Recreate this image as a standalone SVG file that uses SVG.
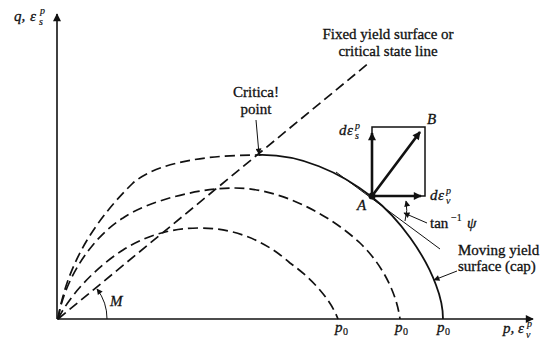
<svg xmlns="http://www.w3.org/2000/svg" width="546" height="345" viewBox="0 0 546 345">
<style>
.t{font-family:"Liberation Serif",serif;font-size:15px;fill:#111;stroke:#111;stroke-width:0.3}
.i{font-style:italic}
.s{font-size:10px;stroke-width:0.2}
.ax{stroke:#111;stroke-width:1.6;fill:none}
.sol{stroke:#111;stroke-width:1.8;fill:none}
.dash{stroke:#111;stroke-width:1.7;fill:none;stroke-dasharray:10 5}
.thin{stroke:#111;stroke-width:1;fill:none}
.vec{stroke:#111;stroke-width:2.6;fill:none}
.rect{stroke:#111;stroke-width:1.5;fill:none}
</style>
<defs>
<marker id="ah" viewBox="0 0 10 10" refX="9" refY="5" markerWidth="11" markerHeight="8" markerUnits="userSpaceOnUse" orient="auto"><path d="M0,0 L10,5 L0,10 z" fill="#111"/></marker>
<marker id="ahs" viewBox="0 0 10 10" refX="9" refY="5" markerWidth="8" markerHeight="6" markerUnits="userSpaceOnUse" orient="auto"><path d="M0,0 L10,5 L0,10 z" fill="#111"/></marker>
</defs>
<rect width="546" height="345" fill="#fff"/>
<g id="axes">
<line class="ax" x1="57" y1="319" x2="57" y2="14" marker-end="url(#ah)"/>
<line class="ax" x1="57" y1="319" x2="533" y2="319" marker-end="url(#ah)"/>
<text class="t i" x="14" y="21">q,</text>
<text class="t i" x="30" y="21">ε</text>
<text class="t s i" x="40" y="14">p</text>
<text class="t s i" x="39" y="25">s</text>
<text class="t i" x="503" y="333">p,</text>
<text class="t i" x="518" y="333">ε</text>
<text class="t s i" x="527" y="327">p</text>
<text class="t s i" x="526" y="338">v</text>
</g>
<g id="connectors">
<path class="dash" d="M58,319 L370,62"/>
<path class="dash" d="M58,319 C66,270 90,225 133,183 C160,160 215,155 259,155"/>
<path class="sol" d="M259,155 C300,154 340,172 372,197 C400,219 425,255 436,285 C441,298 443,310 443,319"/>
<path class="dash" d="M58,319 C64,280 92,237 123,218 C150,200 200,188 235,188 C280,188 330,215 360,243 C380,262 396,290 400,319"/>
<path class="dash" d="M58,319 C70,295 95,268 123,250 C145,236 170,228 200,228 C240,228 270,245 290,263 C310,277 330,298 338,319"/>
<path class="thin" d="M336,172 L440,249"/>
<path class="thin" d="M107,319 A49,49 0 0 0 97,289" marker-end="url(#ahs)"/>
<path class="thin" d="M405,221 Q408,210 406,201" marker-end="url(#ahs)"/>
<line class="thin" x1="256" y1="120" x2="259" y2="154" marker-end="url(#ahs)"/>
<line class="thin" x1="427" y1="223" x2="404" y2="213" marker-end="url(#ahs)"/>
<line class="thin" x1="457" y1="271" x2="434" y2="280" marker-end="url(#ahs)"/>
</g>
<g id="vectors">
<rect class="rect" x="372" y="127" width="53" height="69"/>
<line class="vec" x1="372" y1="196" x2="372" y2="133" marker-end="url(#ah)"/>
<line class="vec" x1="372" y1="196" x2="421" y2="196" marker-end="url(#ah)"/>
<line class="vec" x1="372" y1="196" x2="420" y2="132" marker-end="url(#ah)"/>
<circle cx="372" cy="196" r="3.5" fill="#111"/>
</g>
<g id="labels">
<text class="t" x="388" y="39" text-anchor="middle">Fixed yield surface or</text>
<text class="t" x="388" y="56" text-anchor="middle">critical state line</text>
<text class="t" x="256" y="97" text-anchor="middle">Critica!</text>
<text class="t" x="256" y="114" text-anchor="middle">point</text>
<text class="t i" x="427" y="124">B</text>
<text class="t i" x="357" y="210">A</text>
<text class="t i" x="339" y="135">d</text>
<text class="t i" x="347" y="135">ε</text>
<text class="t s i" x="355" y="129">p</text>
<text class="t s i" x="355" y="139">s</text>
<text class="t i" x="430" y="200">d</text>
<text class="t i" x="438" y="200">ε</text>
<text class="t s i" x="446" y="194">p</text>
<text class="t s i" x="446" y="204">v</text>
<text class="t" x="430" y="228">tan</text>
<text class="t s" x="451" y="221">−1</text>
<text class="t i" x="467" y="228">ψ</text>
<text class="t" x="458" y="255">Moving yield</text>
<text class="t" x="458" y="271">surface (cap)</text>
<text class="t i" x="110" y="306">M</text>
<text class="t i" x="335" y="332">p</text>
<text class="t s" x="343" y="335">0</text>
<text class="t i" x="395" y="332">p</text>
<text class="t s" x="403" y="335">0</text>
<text class="t i" x="437" y="332">p</text>
<text class="t s" x="445" y="335">0</text>
</g>
</svg>
